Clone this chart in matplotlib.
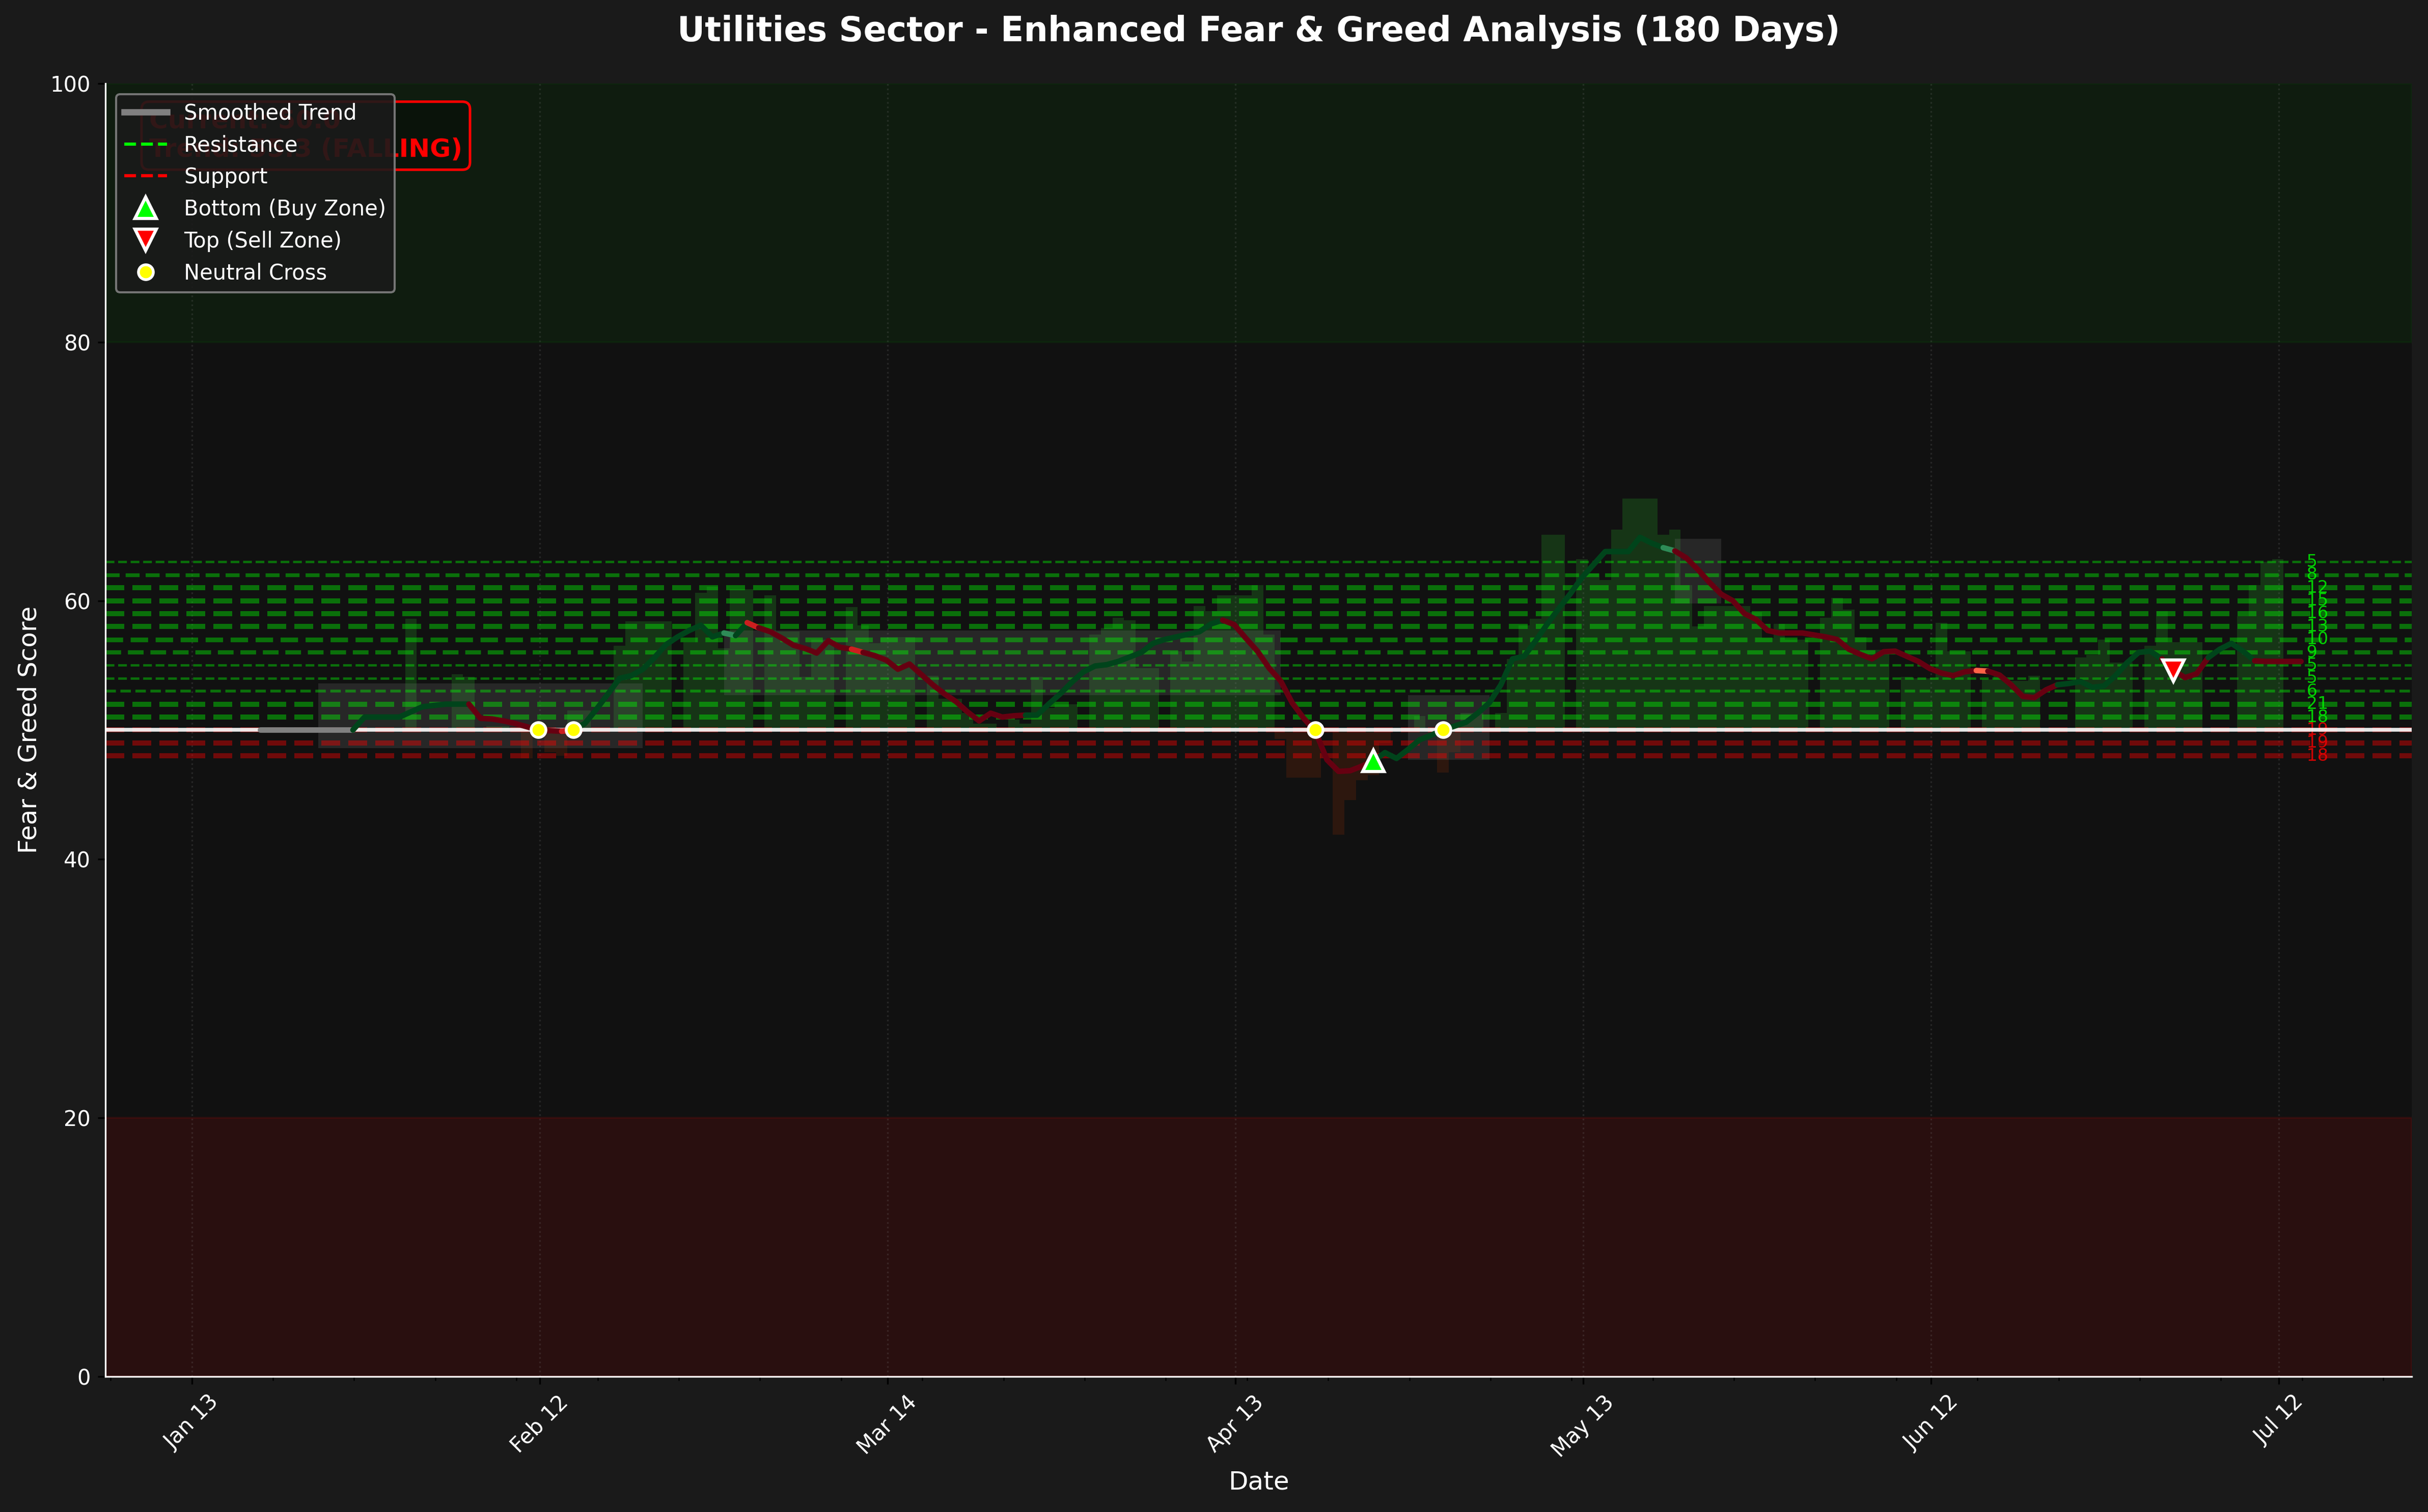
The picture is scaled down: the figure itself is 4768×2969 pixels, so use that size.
import pandas as pd
import matplotlib
matplotlib.use('Agg')
import matplotlib.pyplot as plt
import matplotlib.dates as mdates
from matplotlib.lines import Line2D
from matplotlib.colors import to_rgba

# raw daily score (bars), one value per day from Jan 15 2025
score = [50.0, 50.0, 50.0, 50.0, 50.0, 50.0, 50.0, 50.0, 50.0, 50.0,
         50.0, 50.0, 50.0, 50.0, 50.0, 50.0, 58.6, 50.0, 50.0, 50.0,
         54.3, 54.1, 50.0, 50.3, 50.3, 50.0, 47.8, 50.0, 48.3, 48.0,
         51.5, 51.5, 50.0, 50.0, 56.5, 58.4, 58.4, 58.4, 58.4, 50.0,
         56.8, 60.6, 61.1, 56.3, 60.9, 60.9, 50.0, 60.4, 57.6, 57.6,
         54.1, 57.0, 57.0, 50.0, 59.5, 58.1, 56.7, 57.2, 57.2, 57.2,
         50.0, 54.2, 52.4, 52.4, 51.3, 50.5, 50.5, 50.0, 50.8, 50.5,
         54.1, 51.7, 52.0, 52.0, 50.0, 57.4, 57.9, 58.7, 58.5, 54.8,
         54.8, 50.0, 56.1, 55.3, 59.6, 59.2, 60.4, 60.4, 60.4, 61.2,
         57.4, 49.3, 46.3, 46.3, 46.3, 50.0, 41.9, 44.6, 46.1, 46.5,
         49.0, 50.0, 50.0, 51.1, 50.0, 46.7, 48.3, 51.3, 51.3, 50.0,
         51.3, 55.5, 58.1, 58.6, 65.1, 65.1, 50.0, 63.2, 62.1, 61.6,
         65.5, 67.9, 67.9, 67.9, 65.1, 65.5, 61.2, 58.0, 59.6, 59.6,
         59.6, 59.6, 59.1, 57.1, 58.2, 57.0, 57.0, 50.0, 58.7, 60.2,
         59.3, 57.2, 56.2, 56.2, 50.0, 54.1, 54.0, 54.0, 58.3, 56.1,
         56.1, 50.0, 53.9, 54.2, 53.8, 53.8, 54.2, 50.0, 50.0, 50.0,
         55.6, 55.8, 57.0, 55.2, 55.2, 50.0, 56.5, 59.2, 56.8, 56.8,
         56.8, 50.0, 50.0, 50.0, 58.8, 61.2, 63.0, 63.2, 50.0, 50.0]

# smoothed trend, starts 3 days after the first score
trend = [50.0, 50.0, 50.0, 50.0, 50.0, 50.0, 50.0, 50.0, 50.0, 51.0,
         51.0, 51.0, 51.0, 51.4, 51.8, 51.9, 52.0, 52.0, 52.0, 50.9,
         50.85, 50.7, 50.5, 50.25, 50.0, 49.95, 49.9, 50.0, 50.5, 51.6,
         52.8, 54.0, 54.2, 54.7, 55.6, 56.6, 57.2, 57.7, 58.1, 57.2,
         57.5, 57.3, 58.3, 57.9, 57.6, 57.1, 56.55, 56.3, 55.95, 56.9,
         56.4, 56.25, 56.0, 55.75, 55.4, 54.7, 55.1, 54.3, 53.5, 52.8,
         52.2, 51.4, 50.7, 51.3, 51.0, 51.1, 51.15, 51.15, 52.0, 52.8,
         53.7, 54.5, 54.95, 55.05, 55.3, 55.65, 56.0, 56.7, 57.0, 57.2,
         57.4, 57.6, 58.2, 58.5, 58.15, 57.1, 56.1, 54.8, 53.8, 52.1,
         50.9, 49.9, 47.7, 46.8, 46.85, 47.2, 47.6, 48.25, 47.8, 48.5,
         49.25, 49.6, 50.0, 50.3, 50.6, 51.3, 52.1, 53.5, 55.5, 55.7,
         56.9, 58.2, 59.4, 60.55, 61.8, 62.8, 63.8, 63.8, 63.8, 64.9,
         64.45, 64.1, 63.85, 63.3, 62.4, 61.4, 60.5, 60.0, 59.0, 58.55,
         57.7, 57.5, 57.5, 57.5, 57.35, 57.2, 57.0, 56.25, 55.85, 55.5,
         56.05, 56.1, 55.7, 55.3, 54.75, 54.4, 54.2, 54.5, 54.6, 54.55,
         54.25, 53.5, 52.6, 52.5, 53.1, 53.5, 53.6, 53.75, 53.3, 53.4,
         54.2, 55.2, 56.0, 56.1, 55.5, 54.6, 54.05, 54.35, 55.6, 56.25,
         56.7, 56.1, 55.35, 55.3, 55.3, 55.3, 55.3]

# trend state runs: (first day index, last day index, state) on the score index
trend_runs = [(3, 11, 'flat'), (11, 21, 'up'), (21, 29, 'down'), (29, 30, 'down_new'),
              (30, 43, 'up'), (43, 44, 'up_new'), (44, 45, 'up'), (45, 46, 'down_new'),
              (46, 54, 'down'), (54, 55, 'down_new'), (55, 69, 'down'), (69, 86, 'up'),
              (86, 99, 'down'), (99, 124, 'up'), (124, 125, 'up_new'), (125, 151, 'down'),
              (151, 152, 'warn'), (152, 158, 'down'), (158, 167, 'up'), (167, 171, 'down'),
              (171, 175, 'up'), (175, 179, 'down')]

# signals (score index)
neutral_idx = [27, 30, 94, 105]
bottom_idx = [99]
top_idx = [168]

# consolidation zones (score index start, end, middle)
zone_start = [8, 43, 102, 125]
zone_end = [36, 91, 109, 129]
zone_mid = [51.1, 55.2, 50.2, 62.3]

# support / resistance levels with touch counts
res_levels = [63, 62, 61, 60, 59, 58, 57, 56, 55, 54, 53, 52, 51]
res_counts = [5, 8, 12, 15, 16, 13, 10, 9, 5, 5, 6, 21, 18]
sup_levels = [50, 49, 48]
sup_counts = [19, 19, 18]

dates = pd.date_range('2025-01-15 21:36', periods=len(score), freq='D')
x = mdates.date2num(dates)

state_col = {'flat': '#808080', 'up': '#00441b', 'down': '#660011',
             'up_new': '#2e8b57', 'down_new': '#cc1f1f', 'warn': 'tomato'}

fig, ax = plt.subplots(figsize=(4768/300, 2969/300), dpi=300)
fig.patch.set_facecolor('#1a1a1a')
ax.set_facecolor('#111111')
fig.subplots_adjust(left=0.0434, right=0.9933, top=0.9448, bottom=0.0896)

# sentiment zones
ax.axhspan(80, 100, color='green', alpha=0.1, zorder=0)
ax.axhspan(0, 20, color='red', alpha=0.1, zorder=0)

# daily bars around 50
bar_cols = [to_rgba('forestgreen', 0.3) if s >= 50 else to_rgba('orangered', 0.12) for s in score]
ax.bar(x, [s - 50 for s in score], bottom=50, width=1.0, color=bar_cols, linewidth=0, zorder=1)

# consolidation zones
for a, b, m in zip(zone_start, zone_end, zone_mid):
    ax.fill_between([x[a], x[b]], m - 2.5, m + 2.5, color='gray', alpha=0.2, lw=0, zorder=1.5)

# support / resistance
for lv, c in zip(res_levels, res_counts):
    ax.axhline(lv, color='lime', ls='--', lw=min(c / 4.5, 2.4), alpha=0.4, zorder=2)
    ax.text(x[-1], lv, f' {c}', color='lime', alpha=0.8, fontsize=8, va='center', ha='left')
for lv, c in zip(sup_levels, sup_counts):
    ax.axhline(lv, color='red', ls='--', lw=min(c / 4.5, 2.4), alpha=0.4, zorder=2)
    ax.text(x[-1], lv, f' {c}', color='red', alpha=0.8, fontsize=8, va='center', ha='left')

ax.axhline(50, color='white', lw=1.8, alpha=0.9, zorder=3)

# trend line coloured by state
for a, b, st in trend_runs:
    ax.plot(x[a:b + 1], trend[a - 3:b - 2], color=state_col[st], lw=2.6,
            solid_capstyle='round', solid_joinstyle='round', zorder=4)

ax.plot(x[neutral_idx], [50] * len(neutral_idx), 'o', color='yellow', mec='white', mew=1.3, ms=7, zorder=5)
ax.plot(x[bottom_idx], [trend[i - 3] for i in bottom_idx], '^', color='lime', mec='white', mew=1.5, ms=10, zorder=5)
ax.plot(x[top_idx], [trend[i - 3] for i in top_idx], 'v', color='red', mec='white', mew=1.5, ms=10, zorder=5)

# info box
direction = 'FALLING' if trend_runs[-1][2].startswith('down') else 'RISING'
ax.text(0.019, 0.98, f'Current: {score[-1]:.1f}\nTrend: {trend[-1]:.1f} ({direction})',
        transform=ax.transAxes, fontsize=12, fontweight='bold', color='red', va='top', zorder=4,
        bbox=dict(boxstyle='round,pad=0.3', facecolor=(0, 0, 0, 0.3), edgecolor='red', lw=1.2))

handles = [Line2D([0], [0], color='gray', lw=3, label='Smoothed Trend'),
           Line2D([0], [0], color='lime', ls='--', lw=1.5, label='Resistance'),
           Line2D([0], [0], color='red', ls='--', lw=1.5, label='Support'),
           Line2D([0], [0], marker='^', ls='', color='lime', mec='white', mew=1.5, ms=10, label='Bottom (Buy Zone)'),
           Line2D([0], [0], marker='v', ls='', color='red', mec='white', mew=1.5, ms=10, label='Top (Sell Zone)'),
           Line2D([0], [0], marker='o', ls='', color='yellow', mec='white', mew=1.3, ms=7, label='Neutral Cross')]
leg = ax.legend(handles=handles, loc='upper left', fontsize=10, facecolor='#1a1a1a',
                edgecolor='gray', framealpha=0.9, labelcolor='white')
leg.set_zorder(10)

# axes styling
base = pd.Timestamp('2025-01-13')
ax.set_xlim(mdates.date2num(base - pd.Timedelta(days=7.45)), mdates.date2num(base + pd.Timedelta(days=191.45)))
ax.set_ylim(0, 100)
ax.set_xticks(mdates.date2num(pd.date_range('2025-01-13', periods=7, freq='30D')))
ax.xaxis.set_major_formatter(mdates.DateFormatter('%b %d'))
ax.xaxis.set_minor_locator(mdates.WeekdayLocator(byweekday=mdates.MO))
plt.setp(ax.get_xticklabels(), rotation=45)
ax.tick_params(labelcolor='white', labelsize=10)
ax.grid(True, axis='x', color='gray', alpha=0.2, ls=':', lw=0.8)
for s in ['top', 'right']:
    ax.spines[s].set_visible(False)
for s in ['left', 'bottom']:
    ax.spines[s].set_color('white')

ax.set_title('Utilities Sector - Enhanced Fear & Greed Analysis (180 Days)',
             fontsize=16, fontweight='bold', color='white', pad=20)
ax.set_xlabel('Date', fontsize=12, color='white')
ax.set_ylabel('Fear & Greed Score', fontsize=12, color='white')

fig.savefig('out.png', dpi=300, facecolor=fig.get_facecolor())
